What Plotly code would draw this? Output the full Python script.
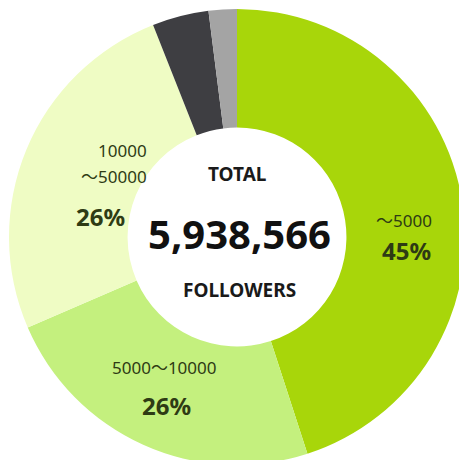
import plotly.graph_objects as go

# ---- data ----
categories = ["〜5000", "5000〜10000", "10000〜50000", "other A", "other B"]
shares = [45, 23.5, 25.5, 4, 2]
colors = ["#a8d60a", "#c4f07e", "#effcc4", "#3e3e42", "#a4a4a4"]
pct_labels = ["45%", "26%", "26%", "", ""]
total_text = "5,938,566"

W = H = 474
M = 9
D = W - 2 * M  # pie domain size in px


def px(x, y):
    return (x - M) / D, 1 - (y - M) / D


fig = go.Figure(go.Pie(
    labels=categories,
    values=shares,
    sort=False,
    direction="clockwise",
    rotation=0,
    hole=0.48,
    marker=dict(colors=colors, line=dict(width=0)),
    textinfo="none",
    hoverinfo="label+percent",
    showlegend=False,
))

FONT = "Noto Sans, Noto Sans CJK JP, sans-serif"
LBL = "#2e3b14"
ann = []


def add(text, x, y, size, bold=False, color=LBL, xanchor="center"):
    xp, yp = px(x, y)
    t = f"<b>{text}</b>" if bold else text
    ann.append(dict(text=t, x=xp, y=yp, xref="paper", yref="paper",
                    xanchor=xanchor, yanchor="middle", showarrow=False,
                    font=dict(family=FONT, size=size, color=color)))


# slice labels
add(categories[0], 404, 220, 17)
add(pct_labels[0], 406, 250, 24, bold=True)
add(categories[1], 164, 367, 17)
add(pct_labels[1], 166, 405, 24, bold=True)
c2a, c2b = categories[2].split("〜")
add(c2a, 149, 150, 17, xanchor="right")
add("〜" + c2b, 149, 176, 17, xanchor="right")
add(pct_labels[2], 100, 216, 24, bold=True)

# center
add("TOTAL", 237, 174, 19, bold=True, color="#1a1a1a")
add(total_text, 240, 233, 40, bold=True, color="#111111")
add("FOLLOWERS", 240, 290, 19, bold=True, color="#1a1a1a")

fig.update_layout(
    width=W, height=H,
    margin=dict(l=M, r=M, t=M, b=M),
    paper_bgcolor="white",
    plot_bgcolor="white",
    annotations=ann,
)

fig.write_html(
    "out.html",
    config={"displayModeBar": False},
    post_script="document.body.style.margin='0';document.body.style.overflow='hidden';document.documentElement.style.overflow='hidden';",
)
